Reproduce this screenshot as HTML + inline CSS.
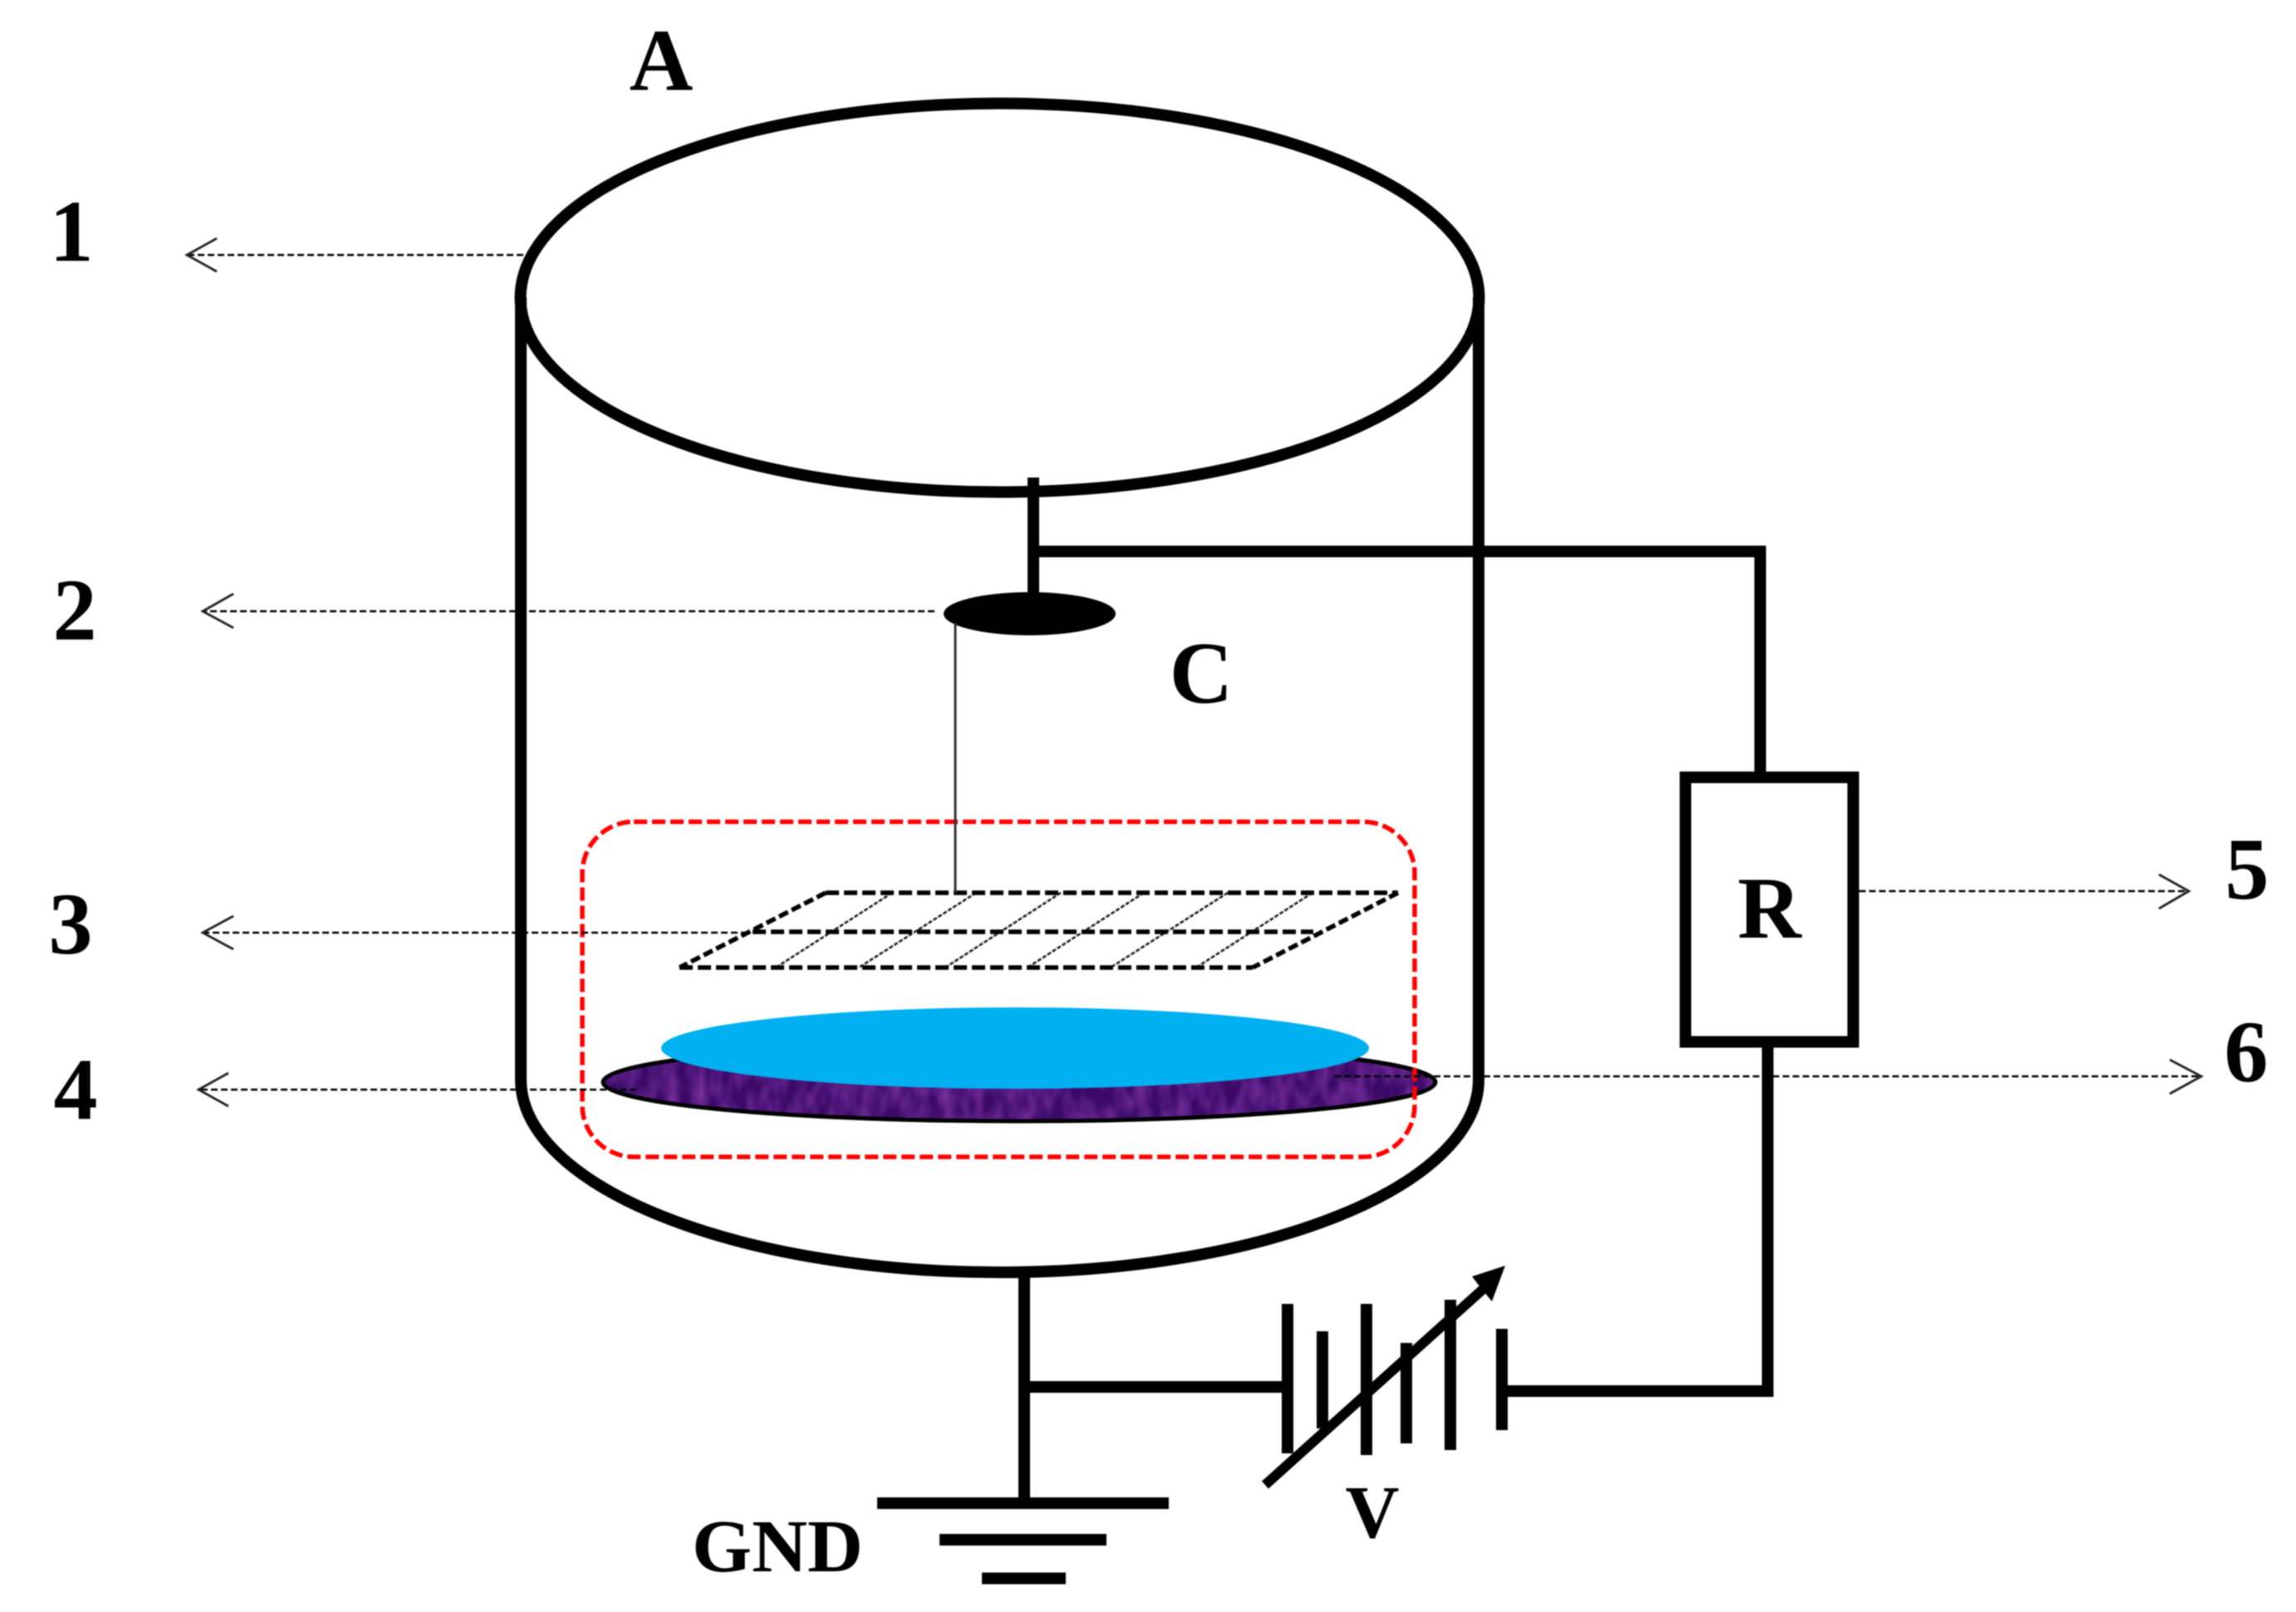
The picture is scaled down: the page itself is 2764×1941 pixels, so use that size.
<!DOCTYPE html>
<html><head><meta charset="utf-8"><style>
html,body{margin:0;padding:0;background:#fff}
svg{display:block;position:absolute;left:0;top:0;filter:blur(0.7px)}
text{font-family:"Liberation Serif",serif;font-weight:bold;fill:#000;text-anchor:middle}
.w{fill:none;stroke:#000;stroke-width:14}
.d{fill:none;stroke:#000;stroke-width:2.4;stroke-dasharray:8 4}
.b{fill:none;stroke:#222;stroke-width:2.8}
.m{fill:none;stroke:#000;stroke-width:5.5;stroke-dasharray:16 6}
.s{fill:none;stroke:#000;stroke-width:5.5;stroke-dasharray:12 5}
.t{fill:none;stroke:#222;stroke-width:2.6;stroke-dasharray:5 2}
</style></head><body>
<svg width="2764" height="1941" viewBox="0 0 2764 1941" xmlns="http://www.w3.org/2000/svg">
<defs>
<clipPath id="pc"><ellipse cx="1227" cy="1303" rx="503" ry="49"/></clipPath>
<filter id="tx" x="0" y="0" width="100%" height="100%">
<feTurbulence type="fractalNoise" baseFrequency="0.06 0.03" numOctaves="2" seed="4"/>
<feColorMatrix values="0 0 0 0 0.32  0 0 0 0 0.06  0 0 0 0 0.50  1.1 0 0 0 -0.35"/>
</filter>
</defs>
<rect width="2764" height="1941" fill="#fff"/>

<!-- chamber -->
<ellipse cx="1203.500" cy="358.500" rx="577" ry="234" fill="#fff" stroke="#000" stroke-width="14"/>
<path class="w" d="M627 358V1300A576.500 232 0 0 0 1780 1300V358"/>

<!-- substrate and sample -->
<ellipse cx="1227" cy="1303" rx="503" ry="49" fill="#3b0a68"/>
<rect x="720" y="1250" width="1015" height="106" clip-path="url(#pc)" filter="url(#tx)"/>
<ellipse cx="1227" cy="1303" rx="501" ry="47" fill="none" stroke="#000" stroke-width="5"/>
<ellipse cx="1222" cy="1262" rx="426" ry="49" fill="#00b0f0"/>

<!-- red dashed box -->
<rect x="701" y="989.500" width="1002" height="403.500" rx="62" ry="62" fill="none" stroke="#f00" stroke-width="5.500" stroke-dasharray="16 6"/>

<!-- mesh -->
<path class="t" d="M1074 1075L934 1165M1175 1075L1034 1165M1277 1075L1138 1165M1377 1075L1237 1165M1478 1075L1337 1165M1580 1075L1440 1165"/>
<path class="m" d="M994 1075H1683M906 1122H1581M818 1165H1508"/>
<path class="s" d="M994 1075L818 1165M1683 1075L1508 1165"/>

<!-- electrode -->
<rect x="1237" y="575" width="14" height="150"/>
<ellipse cx="1239.500" cy="739" rx="103.500" ry="26"/>
<path d="M1150 750V1075" stroke="#333" stroke-width="3" fill="none"/>
<path class="w" d="M1244 664H2119V929"/>

<!-- resistor -->
<rect x="2029" y="936" width="202" height="318.500" fill="none" stroke="#000" stroke-width="14"/>
<path class="w" d="M2128 1261V1682"/>
<path class="w" d="M1808 1675H2135"/>

<!-- ground wires -->
<path class="w" d="M1233 1532V1810"/>
<path class="w" d="M1233 1670H1550"/>
<path class="w" d="M1056 1810H1407"/>
<path class="w" d="M1131 1854H1332"/>
<path class="w" d="M1182 1900.500H1283"/>

<!-- battery -->
<path class="w" d="M1550 1570V1750M1592 1603V1720M1645 1570V1752M1693 1617V1738M1746 1565V1746M1808 1600V1722"/>
<path class="w" style="stroke-width:12" d="M1523 1788L1790 1548"/>
<path d="M1812 1524L1772 1537L1782 1550L1796 1567Z"/>

<!-- leader arrows -->
<path class="d" d="M630 307H225M1125 736H244M900 1123H244M766 1312H239M2238 1073H2635M1606 1296H2650"/>
<path class="b" d="M261 287L225 307L261 327M281 715L244 736L281 756M281 1103L244 1123L281 1143M275 1292L239 1312L275 1332M2599 1053L2635 1073L2599 1094M2612 1276L2650 1296L2612 1317"/>

<!-- labels -->
<text x="796" y="108" font-size="106">A</text>
<text x="1446" y="846" font-size="106">C</text>
<text x="2130" y="1129" font-size="106">R</text>
<text x="86" y="314" font-size="106">1</text>
<text x="90" y="770" font-size="106">2</text>
<text x="85" y="1148" font-size="106">3</text>
<text x="91" y="1347" font-size="106">4</text>
<text x="2705" y="1082" font-size="106">5</text>
<text x="2704" y="1302" font-size="106">6</text>
<text x="1652" y="1851" font-size="90">V</text>
<text x="936" y="1892" font-size="90" textLength="206" lengthAdjust="spacingAndGlyphs">GND</text>
</svg>
</body></html>
